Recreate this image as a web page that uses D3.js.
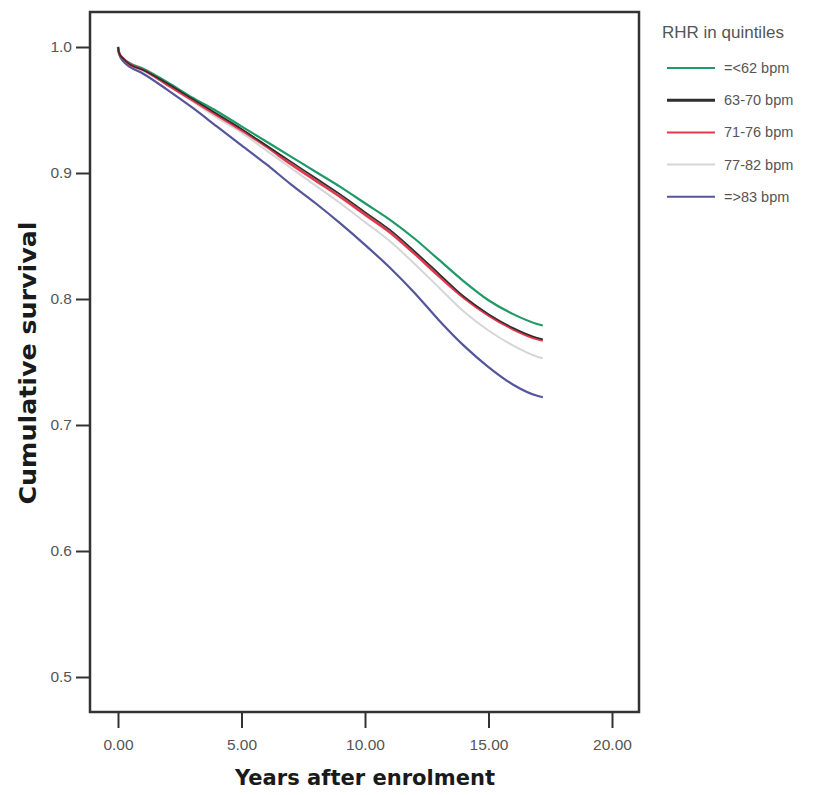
<!DOCTYPE html>
<html lang="en">
<head>
  <meta charset="utf-8">
  <script src="https://cdn.jsdelivr.net/npm/d3@7"></script>
  <style>
    body { margin: 0; background: #fff; }
    svg { display: block; }
  </style>
</head>
<body>
<svg id="chart" width="823" height="795"></svg>
<script type="text/javascript">
  // follow-up time in years
  var years = [0, 0.05, 0.2, 0.5, 1, 2, 3, 4, 5, 6, 7, 8, 9, 10, 11, 12, 13, 14, 15, 16, 17, 17.2];

  // cumulative survival per RHR quintile
  var rhr62 = [1.0, 0.995, 0.991, 0.987, 0.983, 0.972, 0.960, 0.949, 0.937, 0.925, 0.913, 0.901, 0.889, 0.876, 0.863, 0.848, 0.831, 0.814, 0.799, 0.788, 0.780, 0.779];
  var rhr63_70 = [1.0, 0.995, 0.991, 0.986, 0.982, 0.971, 0.959, 0.947, 0.935, 0.922, 0.909, 0.896, 0.883, 0.869, 0.855, 0.838, 0.820, 0.802, 0.788, 0.777, 0.769, 0.768];
  var rhr71_76 = [1.0, 0.995, 0.991, 0.986, 0.982, 0.970, 0.958, 0.946, 0.934, 0.921, 0.907, 0.894, 0.881, 0.867, 0.853, 0.836, 0.818, 0.801, 0.787, 0.776, 0.768, 0.767];
  var rhr77_82 = [1.0, 0.995, 0.990, 0.985, 0.981, 0.970, 0.957, 0.944, 0.932, 0.918, 0.904, 0.890, 0.876, 0.861, 0.846, 0.828, 0.809, 0.790, 0.775, 0.763, 0.754, 0.753];
  var rhr83 = [1.0, 0.994, 0.989, 0.984, 0.979, 0.966, 0.952, 0.937, 0.922, 0.907, 0.891, 0.876, 0.860, 0.843, 0.825, 0.805, 0.783, 0.763, 0.746, 0.732, 0.723, 0.722];

  var labels = ["=<62 bpm", "63-70 bpm", "71-76 bpm", "77-82 bpm", "=>83 bpm"];
  var colors = ["#1f9a66", "#2e2e2e", "#e3384c", "#d6d6d6", "#55559c"];
  var xTicks = [0, 5, 10, 15, 20];
  var yTicks = [0.5, 0.6, 0.7, 0.8, 0.9, 1.0];

  var seriesValues = [rhr62, rhr63_70, rhr71_76, rhr77_82, rhr83];

  var svg = d3.select("#chart");
  var x = d3.scaleLinear().domain([0, 20]).range([118, 612]);
  var y = d3.scaleLinear().domain([0.5, 1.0]).range([677, 47]);

  var frame = { left: 90, right: 639, top: 12, bottom: 712 };

  // axes
  var yAxis = svg.append("g")
    .attr("transform", "translate(" + (frame.left - 1) + ",0)")
    .call(d3.axisLeft(y).tickValues(yTicks).tickFormat(d3.format(".1f")).tickSize(13).tickPadding(4));
  var xAxis = svg.append("g")
    .attr("transform", "translate(0," + (frame.bottom + 1) + ")")
    .call(d3.axisBottom(x).tickValues(xTicks).tickFormat(d3.format(".2f")).tickSize(15).tickPadding(11));

  [yAxis, xAxis].forEach(function(g) {
    g.select(".domain").remove();
    g.selectAll(".tick line").attr("stroke", "#333").attr("stroke-width", 2);
    g.selectAll(".tick text")
      .attr("fill", "#555")
      .style("font-family", "Liberation Sans, Arial, sans-serif")
      .style("font-size", "15.5px");
  });

  // frame
  svg.append("rect")
    .attr("x", frame.left)
    .attr("y", frame.top)
    .attr("width", frame.right - frame.left)
    .attr("height", frame.bottom - frame.top)
    .attr("fill", "none")
    .attr("stroke", "#333")
    .attr("stroke-width", 2.5);

  // survival curves, light ones underneath
  var line = d3.line()
    .x(function(d) { return x(d[0]); })
    .y(function(d) { return y(d[1]); })
    .curve(d3.curveMonotoneX);

  var drawOrder = [3, 4, 0, 2, 1];
  var widths = [2.2, 1.6, 2.6, 2, 2.2];
  drawOrder.forEach(function(i) {
    var pts = years.map(function(t, j) { return [t, seriesValues[i][j]]; });
    svg.append("path")
      .datum(pts)
      .attr("d", line)
      .attr("fill", "none")
      .attr("stroke", colors[i])
      .attr("stroke-width", widths[i])
      .attr("stroke-linejoin", "round");
  });

  // axis titles
  svg.append("text")
    .attr("transform", "translate(36,363) rotate(-90)")
    .attr("text-anchor", "middle")
    .attr("textLength", 283)
    .attr("lengthAdjust", "spacingAndGlyphs")
    .style("font-family", "DejaVu Sans, sans-serif")
    .style("font-weight", "bold")
    .style("font-size", "23px")
    .attr("fill", "#1a1a1a")
    .text("Cumulative survival");

  svg.append("text")
    .attr("x", 365)
    .attr("y", 785)
    .attr("text-anchor", "middle")
    .attr("textLength", 260)
    .attr("lengthAdjust", "spacingAndGlyphs")
    .style("font-family", "DejaVu Sans, sans-serif")
    .style("font-weight", "bold")
    .style("font-size", "22px")
    .attr("fill", "#1a1a1a")
    .text("Years after enrolment");

  // legend
  var legend = svg.append("g");
  legend.append("text")
    .attr("x", 662)
    .attr("y", 38)
    .attr("fill", "#555")
    .style("font-family", "Liberation Sans, Arial, sans-serif")
    .style("font-size", "17px")
    .text("RHR in quintiles");

  var rows = legend.selectAll("g.row")
    .data(labels)
    .enter()
    .append("g")
    .attr("class", "row")
    .attr("transform", function(d, i) { return "translate(0," + (68 + i * 32.2) + ")"; });

  rows.append("line")
    .attr("x1", 667).attr("x2", 715)
    .attr("y1", 0).attr("y2", 0)
    .attr("stroke", function(d, i) { return colors[i]; })
    .attr("stroke-width", function(d, i) { return i === 1 ? 3 : 2; });

  rows.append("text")
    .attr("x", 724)
    .attr("y", 5)
    .attr("fill", "#555")
    .style("font-family", "Liberation Sans, Arial, sans-serif")
    .style("font-size", "14.5px")
    .text(function(d) { return d; });
</script>
</body>
</html>
